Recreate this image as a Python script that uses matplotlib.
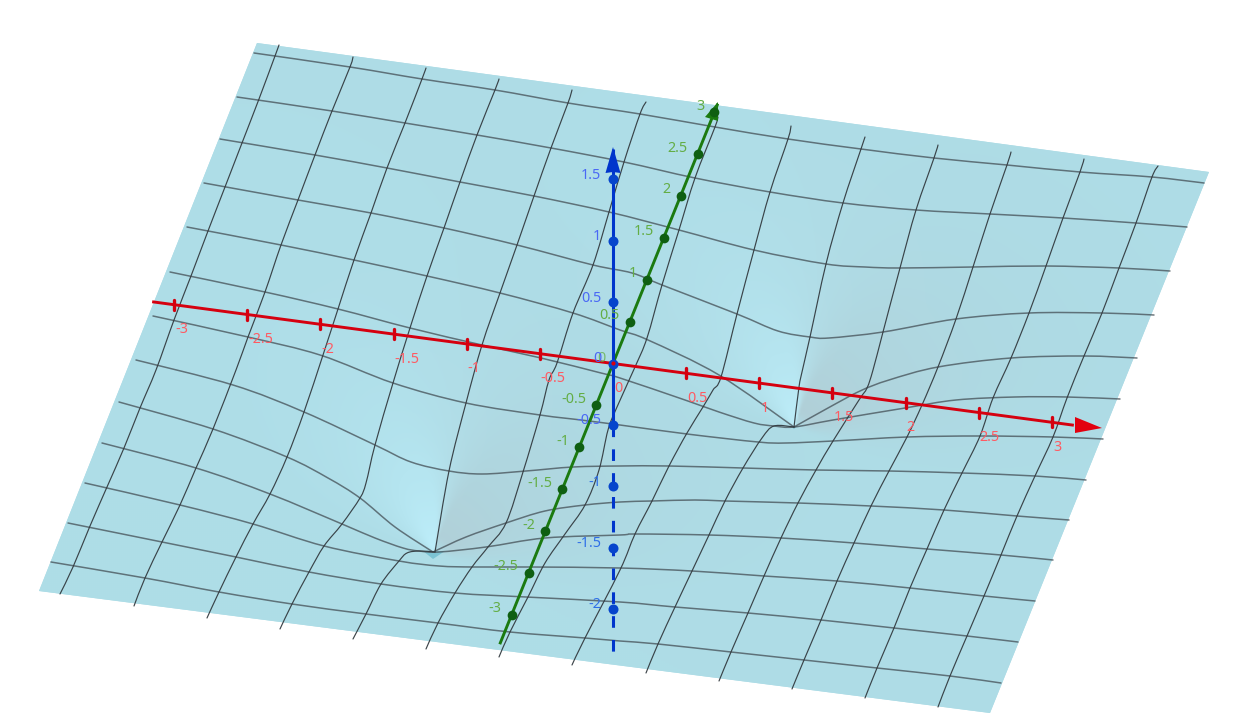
import numpy as np
import matplotlib
matplotlib.use("Agg")
import matplotlib.pyplot as plt
from matplotlib.path import Path
from matplotlib.patches import PathPatch, Polygon

plt.rcParams['font.family'] = ['Noto Sans', 'DejaVu Sans']

# ---- values ----------------------------------------------------------------
surface_outline = [(257, 43), (1209, 172), (990, 713), (39, 591)]
funnel_tips = [(433, 552), (794, 427)]

# long grid lines across the surface (picture coordinates)
across = [
    [(254,53),(350,67),(422,79),(495,90),(568,103),(640,114),(715,127),(788,139),(861,149),(934,158),(1007,165),(1080,172),(1152,177),(1204,183)],
    [(237,97),(332,111),(405,123),(477,135),(551,148),(624,162),(695,178),(770,192),(843,203),(916,210),(990,214),(1063,218),(1136,223),(1187,227)],
    [(220,139),(315,155),(387,168),(460,182),(534,196),(609,212),(679,230),(754,250),(826,264),(865,267),(900,268),(973,267),(1046,266),(1119,268),(1170,271)],
    [(204,183),(298,200),(371,213),(444,228),(517,245),(593,265),(632,273),(662,285),(737,314),(778,331),(810,337),(829,338),(883,332),(956,319),(1029,313),(1102,313),(1154,315)],
    [(187,227),(281,245),(354,260),(427,276),(500,293),(573,313),(620,330),(648,340),(719,375),(794,427)],
    [(794,427),(828,408),(860,391),(889,380),(938,367),(1011,358),(1084,356),(1137,358)],
    [(170,272),(265,292),(338,309),(410,328),(482,345),(541,358),(601,373),(620,378),(685,400),(719,412),(754,423),(774,426),(794,427),(833,420),(905,408),(956,400),(1015,397),(1067,397),(1120,399)],
    [(153,316),(248,337),(320,355),(393,383),(466,403),(540,415),(581,420),(620,425),(687,434),(758,442),(786,443),(833,441),(907,437),(980,436),(1053,437),(1103,439)],
    [(136,360),(233,385),(304,412),(375,445),(411,462),(449,471),(482,474),(526,471),(573,467),(620,466),(669,466),(743,468),(816,470),(889,471),(962,473),(1035,476),(1086,480)],
    [(119,402),(213,429),(287,457),(328,478),(360,498),(395,527),(433,552)],
    [(433,552),(466,537),(506,523),(545,511),(585,505),(620,502),(652,501),(695,500),(725,501),(798,503),(871,506),(944,510),(1017,516),(1069,520)],
    [(102,443),(196,468),(270,494),(342,524),(375,538),(403,548),(419,551),(439,552),(486,547),(545,538),(620,535),(636,534),(709,535),(781,538),(854,543),(927,549),(1001,555),(1053,560)],
    [(85,483),(180,505),(253,524),(324,546),(399,561),(439,566),(474,567),(530,567),(620,568),(692,571),(764,576),(837,581),(910,588),(984,596),(1035,601)],
    [(68,523),(162,542),(236,557),(309,572),(381,584),(455,593),(526,597),(620,602),(675,607),(748,613),(821,620),(894,628),(967,636),(1018,642)],
    [(51,562),(145,578),(219,592),(292,604),(366,614),(438,623),(510,632),(585,638),(620,641),(658,644),(731,652),(804,660),(877,668),(950,676),(1001,683)],
]

# grid lines running from the far edge to the near edge
along = [
    [(279,45),(275,56),(259,99),(242,143),(225,187),(208,231),(191,276),(174,320),(156,370),(140,408),(124,448),(107,487),(90,526),(73,567),(60,594)],
    [(353,57),(350,67),(332,111),(315,155),(298,200),(281,245),(265,292),(248,337),(236,370),(213,429),(196,468),(180,505),(162,542),(145,578),(134,606)],
    [(426,68),(422,79),(405,123),(387,168),(371,213),(354,260),(338,309),(323,355),(304,412),(287,457),(270,494),(253,524),(236,557),(219,592),(207,618)],
    [(499,79),(495,90),(477,135),(460,182),(444,228),(427,276),(410,328),(393,383),(375,445),(366,483),(360,498),(342,524),(324,546),(309,572),(292,604),(280,629)],
    [(572,90),(568,103),(551,148),(534,196),(517,245),(500,293),(482,345),(466,403),(449,471),(435,552)],
    [(435,552),(419,551),(407,553),(399,561),(381,584),(366,614),(353,639)],
    [(646,102),(640,114),(624,162),(609,212),(593,265),(573,313),(557,363),(549,380),(540,415),(523,472),(506,523),(488,547),(472,567),(455,593),(438,623),(426,649)],
    [(718,117),(715,127),(695,178),(679,230),(662,285),(647,338),(635,367),(617,407),(608,430),(599,470),(585,505),(565,534),(545,563),(528,597),(510,632),(499,657)],
    [(791,126),(788,139),(770,192),(754,250),(737,314),(721,377),(713,390),(703,407),(687,433),(669,466),(652,501),(635,534),(620,570),(585,638),(572,665)],
    [(865,137),(861,149),(843,203),(826,264),(810,337),(802,372),(799,387),(794,427)],
    [(794,427),(774,426),(762,438),(743,468),(725,501),(709,535),(692,571),(675,607),(658,644),(646,673)],
    [(938,145),(934,158),(916,210),(900,268),(883,332),(873,370),(867,388),(859,400),(833,441),(816,470),(798,503),(781,538),(764,576),(748,613),(731,652),(719,681)],
    [(1011,152),(1007,165),(990,214),(973,267),(956,319),(938,367),(922,405),(907,437),(889,471),(871,506),(854,543),(837,581),(821,620),(804,660),(792,689)],
    [(1084,159),(1080,172),(1063,218),(1046,266),(1029,313),(1011,358),(993,398),(980,436),(962,473),(944,510),(927,549),(910,588),(894,628),(877,668),(865,698)],
    [(1158,166),(1152,177),(1136,223),(1119,268),(1102,313),(1084,356),(1067,398),(1053,437),(1035,476),(1017,516),(1001,555),(984,596),(967,636),(950,676),(938,707)],
]

# axis ticks
x_ticks = [-3, -2.5, -2, -1.5, -1, -0.5, 0.5, 1, 1.5, 2, 2.5, 3]
y_ticks = [-3, -2.5, -2, -1.5, -1, -0.5, 0.5, 1, 1.5, 2, 2.5, 3]
z_ticks = [-2, -1.5, -1, -0.5, 0.5, 1, 1.5]

origin = (613.0, 363.5)
x_unit = (146.3, 19.6)    # one unit of each axis on the picture
y_unit = (33.8, -83.8)
z_unit = (0.0, -122.7)

RED, GREEN, BLUE = '#d5000f', '#1b7a10', '#0035cc'
RED_T, GREEN_T, BLUE_T = '#ff5a62', '#63ad45', '#4a68f5'
FS = 10.3


def axis_pt(unit, v):
    return origin[0] + unit[0] * v, origin[1] + unit[1] * v


def fmt(v):
    return f'{v:g}'


def smooth_path(pts):
    p = np.asarray(pts, float)
    verts, codes = [p[0]], [Path.MOVETO]
    for i in range(len(p) - 1):
        a = p[max(i - 1, 0)]
        b, c = p[i], p[i + 1]
        d = p[min(i + 2, len(p) - 1)]
        verts += [b + (c - a) / 6, c - (d - b) / 6, c]
        codes += [Path.CURVE4] * 3
    return Path(verts, codes)


def sstep(a, b, v):
    t = np.clip((v - a) / (b - a), 0, 1)
    return t * t * (3 - 2 * t)


fig = plt.figure(figsize=(12.4, 7.24), dpi=100)
ax = fig.add_axes([0, 0, 1, 1])
ax.set_xlim(0, 1240)
ax.set_ylim(724, 0)
ax.axis('off')

# surface with soft shading round the two funnels
outline = Polygon(surface_outline, closed=True, fc='#aedde7', ec='none', zorder=1)
ax.add_patch(outline)
gx, gy = np.meshgrid(np.arange(0, 1240, 2.0), np.arange(0, 724, 2.0))
base = np.array([174, 221, 231], float)
light = np.array([188, 237, 249], float)
dark = np.array([177, 207, 215], float)
rgb = np.ones(gx.shape + (3,)) * base
for (sx, sy) in funnel_tips:
    dx, dy = gx - sx, sy - gy
    r = np.hypot(dx, dy) + 1e-6
    th = np.degrees(np.arctan2(dy, dx))
    soft = 3 + r / 5                         # the light/dark edge blurs with distance
    edge = sstep(-soft, soft, th - 78)
    lw_ = edge * (1 - sstep(105, 170, th)) * np.exp(-r / 110)
    dw_ = (1 - edge) * sstep(-25, 20, th) * np.exp(-r / 150) * sstep(0, 20, r)
    rgb += (light - base)[None, None, :] * lw_[..., None] * 1.1
    rgb += (dark - base)[None, None, :] * dw_[..., None] * 1.0
img = ax.imshow(np.clip(rgb, 0, 255) / 255, extent=(0, 1240, 724, 0), zorder=1.5,
                aspect='auto', interpolation='bilinear')
img.set_clip_path(outline)
ax.set_xlim(0, 1240)
ax.set_ylim(724, 0)

# small open bottoms of the funnels
ax.add_patch(Polygon([(423, 551), (445, 551), (433, 559)], fc='#7cc3d3', ec='none', zorder=2))
ax.add_patch(Polygon([(790, 426), (798, 426), (794, 429)], fc='#7cc3d3', ec='none', zorder=2))

for line in across:
    ax.add_patch(PathPatch(smooth_path(line), fc='none', ec='#4a575e', lw=1.1, alpha=0.8,
                           capstyle='round', zorder=3))
for line in along:
    ax.add_patch(PathPatch(smooth_path(line), fc='none', ec='#333b40', lw=0.85, alpha=0.95,
                           capstyle='round', zorder=3.1))

# x axis
xa = axis_pt(x_unit, -3.15)
xb = axis_pt(x_unit, 3.15)
ax.plot([xa[0], xb[0]], [xa[1], xb[1]], color=RED, lw=2.1, zorder=5, solid_capstyle='butt')
ax.add_patch(Polygon([(1102, 428), (1075, 417), (1075, 433)], fc='#e2000f', ec='none', zorder=6))
for v in x_ticks:
    px, py = axis_pt(x_unit, v)
    ax.plot([px, px], [py - 5, py + 5], color=RED, lw=2.4, zorder=6, solid_capstyle='round')
    ax.text(px + 1, py + 25, fmt(v), color=RED_T, fontsize=FS, ha='left', va='center', zorder=8)
ax.text(614, 388, '0', color=RED_T, fontsize=FS, ha='left', va='center', zorder=8)

# y axis
ya = axis_pt(y_unit, -3.35)
yb = axis_pt(y_unit, 3.1)
ax.plot([ya[0], yb[0]], [ya[1], yb[1]], color=GREEN, lw=2.1, zorder=5, solid_capstyle='butt')
ax.add_patch(Polygon([(718, 102), (705, 117), (718, 121)], fc=GREEN, ec='none', zorder=6))
for v in y_ticks:
    px, py = axis_pt(y_unit, v)
    ax.plot([px], [py], 'o', color='#0f5f12', ms=7, mew=0, zorder=6)
    ax.text(px - 10, py - 6, fmt(v), color=GREEN_T, fontsize=FS, ha='right', va='center', zorder=8)
ax.text(606, 358, '0', color=GREEN_T, fontsize=FS, ha='right', va='center', alpha=0.75, zorder=8)

# z axis
za = axis_pt(z_unit, -0.5)
zb = axis_pt(z_unit, 1.75)
zc = axis_pt(z_unit, -2.39)
ax.plot([za[0], zb[0]], [za[1], zb[1]], color=BLUE, lw=2.2, zorder=5.5, solid_capstyle='butt')
ax.plot([za[0], zc[0]], [za[1], zc[1]], color=BLUE, lw=2.2, zorder=5.5, dashes=(3.8, 4.0))
ax.add_patch(Polygon([(613, 147), (605.5, 173), (613, 172), (620.5, 173)], fc=BLUE, ec='none', zorder=6))
for v in z_ticks:
    px, py = axis_pt(z_unit, v)
    ax.plot([px], [py], 'o', color='#0645cc', ms=7.2, mew=0, zorder=6)
    col = BLUE_T if v >= -0.5 else '#2f6fe8'
    ax.text(601, py - 4, fmt(v), color=col, fontsize=FS, ha='right', va='center', zorder=8)
ax.text(602, 359, '0', color=BLUE_T, fontsize=FS, ha='right', va='center', zorder=8)

# origin
ax.plot([origin[0]], [origin[1]], 'o', color='#0645cc', ms=7.2, mew=0, zorder=6)
ax.plot([origin[0]], [origin[1] - 1], 'o', color=RED, ms=3, mew=0, zorder=7)

fig.savefig('out.png', dpi=100, facecolor='white')
